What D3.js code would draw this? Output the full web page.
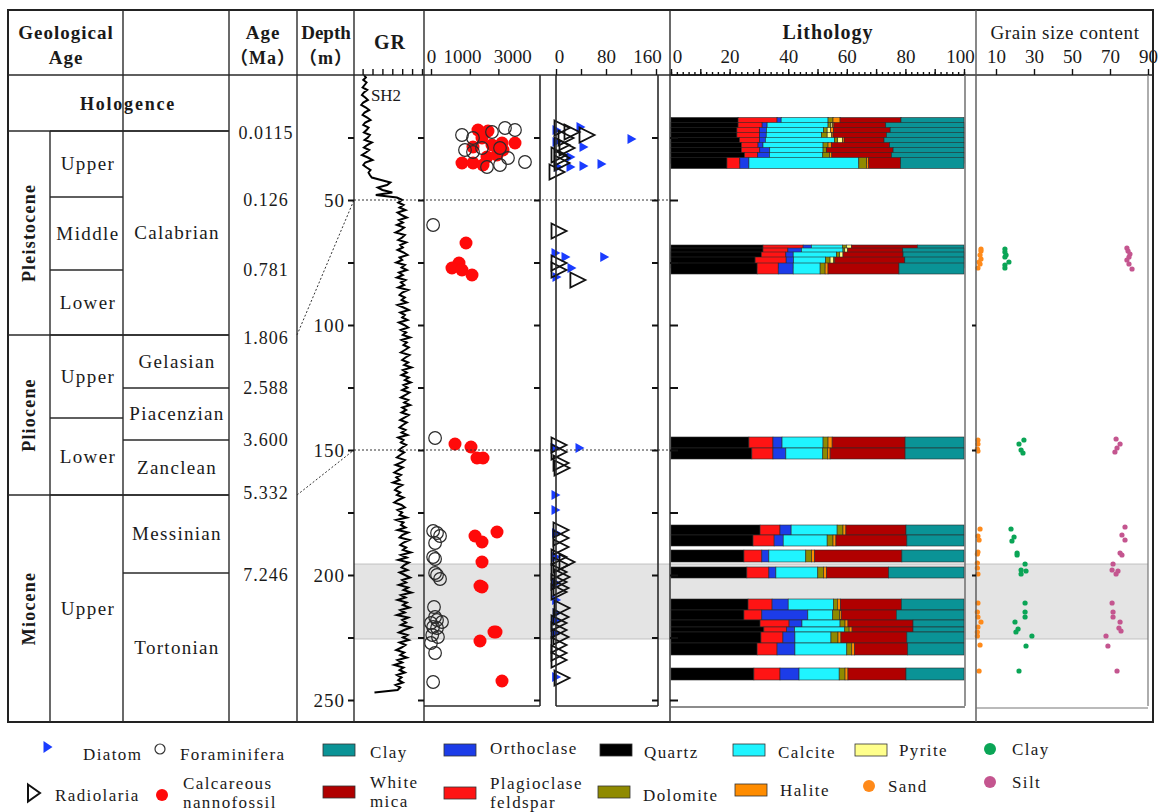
<!DOCTYPE html>
<html>
<head>
<meta charset="utf-8">
<script src="https://cdnjs.cloudflare.com/ajax/libs/d3/7.8.5/d3.min.js"></script>
<style>
  body { margin: 0; background: #fff; }
  text { font-family: "Liberation Serif", "DejaVu Serif", "Noto Sans CJK SC", serif; fill: #1a1a1a; }
</style>
</head>
<body>
<div class="canvas"></div>
<script>
// ---------------- data ----------------
// stratigraphy table
const epochs = ['Pleistocene', 'Pliocene', 'Miocene'];
const seriesNames = ['Upper', 'Middle', 'Lower', 'Upper', 'Lower', 'Upper'];
const stages = ['Calabrian', 'Gelasian', 'Piacenzian', 'Zanclean', 'Messinian', 'Tortonian'];
const ages = ['0.0115', '0.126', '0.781', '1.806', '2.588', '3.600', '5.332', '7.246'];

// depth ticks (m)
const depthTicks = [25, 50, 75, 100, 125, 150, 175, 200, 225, 250];
const shadeInterval = [195.6, 225.6];
const correlationDepths = [50, 150];

// GR log, one value per metre from 0 m
const grValues = [
  12, 15, 11, 16, 13, 10, 17, 12, 9, 14,
  18, 11, 8, 15, 20, 13, 10, 17, 22, 14,
  11, 19, 16, 12, 21, 18, 13, 24, 17, 12,
  20, 15, 9, 18, 25, 14, 11, 16, 22, 19,
  21, 24, 38, 52, 47, 33, 40, 55, 30, 62,
  70, 64, 72, 66, 75, 63, 69, 77, 65, 71,
  62, 73, 68, 60, 74, 70, 64, 76, 67, 71,
  63, 72, 78, 66, 70, 61, 74, 69, 77, 65,
  71, 62, 75, 68, 73, 64, 79, 70, 66, 74,
  69, 77, 63, 72, 80, 67, 74, 70, 78, 65,
  73, 79, 68, 76, 71, 82, 69, 77, 72, 80,
  74, 68, 81, 75, 70, 79, 73, 84, 71, 77,
  69, 80, 74, 83, 72, 78, 70, 81, 75, 68,
  79, 73, 82, 70, 76, 69, 80, 74, 67, 77,
  71, 66, 75, 69, 78, 64, 72, 68, 76, 70,
  65, 73, 67, 62, 74, 69, 60, 71, 64, 58,
  68, 61, 66, 56, 70, 63, 59, 67, 62, 72,
  64, 58, 69, 74, 63, 70, 66, 77, 61, 72,
  68, 75, 63, 79, 70, 66, 81, 72, 67, 76,
  71, 83, 68, 77, 64, 80, 73, 69, 78, 66,
  74, 82, 70, 76, 65, 79, 72, 84, 68, 75,
  63, 77, 71, 81, 67, 74, 62, 79, 70, 76,
  68, 83, 73, 65, 78, 71, 80, 66, 75, 69,
  61, 73, 67, 77, 63, 70, 58, 72, 66, 74,
  62, 69, 64, 71, 60, 67, 63, 28
];

// fossils: [depth m, abundance]
const foraminifera = [
  [24, 635], [25.2, 1166], [22.8, 2459], [21.2, 3620], [22, 4664], [30, 764], [30.8, 1166],
  [33.2, 3919], [36, 3147], [36.8, 2073], [34.8, 5840], [29.2, 1719], [29.2, 3147],
  [60, 3], [145.2, 11],
  [182.4, 3], [183.2, 24], [184.4, 54], [187.2, 11], [192.8, 3], [193.6, 11], [199.2, 11],
  [200, 24], [201.6, 54], [212.8, 6], [216.8, 11], [218, 24], [218.8, 80], [219.2, 0],
  [220.8, 3], [221.2, 24], [224, 1], [224.8, 32], [227.2, 0], [231.2, 11], [242.8, 3]
];
const nannofossil = [
  [22, 1460], [22.4, 2147], [25.2, 1719], [28.8, 1166], [28, 2459], [27.2, 3332], [27.2, 4664],
  [32.8, 2073], [35.2, 635], [35.2, 1166], [36, 1787], [32, 2879], [30, 3427],
  [67.2, 810], [75.2, 518], [77.2, 291], [78, 635], [80, 1111],
  [147.6, 381], [148.8, 1057], [153.2, 1399], [153.2, 1787],
  [184.4, 1280], [186.8, 1719], [182.8, 2879], [194.8, 1719], [204.4, 1587], [204.8, 1719],
  [222.8, 2623], [222.8, 2793], [226.4, 1587], [242.4, 3332]
];
const diatom = [
  [22, 1.6], [20.8, 40], [25.6, 121.6], [28.8, 44.8], [32.8, 24], [36.8, 24], [36.4, 44.8],
  [35.6, 73.6], [26.8, 1.6], [36.8, 4.8],
  [71.2, 0], [72.8, 16], [72.8, 78], [77.2, 25.6], [80.8, 1.6],
  [149.2, 0], [149.2, 38.4], [168, 0], [174, 0],
  [183.2, 1], [192.8, 1], [203.2, 1], [210, 1], [215.2, 2], [218, 1], [223.2, 1], [240.8, 1]
];
const radiolaria = [
  [21.2, 9.6], [22.8, 25.6], [24, 49.6], [25.2, 16], [28, 9.6], [29.2, 17.6], [32, 4.8],
  [35.2, 9.6], [38.8, 1.6], [33.2, 9.6],
  [62.4, 4.8], [75.2, 4.8], [78, 4.8], [82, 35],
  [148, 4.8], [150.8, 4.8], [155.2, 8], [157.2, 9.6],
  [182, 8], [185.2, 8], [188.8, 8], [192.8, 4.8], [194.8, 17.6], [196, 8], [198.8, 4.8],
  [200.8, 9.6], [202.8, 4.8], [205.2, 8], [206.8, 4.8], [213.2, 9.6], [216.8, 8], [219.2, 4.8],
  [222, 4.8], [224.8, 8], [228, 4.8], [231.2, 4.8], [234, 4.8], [241.2, 9.6]
];

// lithology samples (m) and mineral percentages
const sampleTop  = [17, 19, 21, 23, 25, 27, 29, 31, 33,
                    68, 69.2, 70.8, 72.8, 75.2,
                    144.8, 149.2,
                    180, 184, 190, 196.8, 209.6, 214, 218, 220.8, 222.8, 227.2, 237.2];
const sampleBase = [21.4, 23.4, 25.4, 27.4, 29.4, 31.4, 33.4, 35.4, 37.4,
                    72.4, 73.6, 75.2, 77.2, 79.6,
                    149.2, 153.6,
                    184, 188.4, 194.8, 201.2, 214, 218, 220.8, 222.8, 227.2, 232, 242];
const quartz      = [22.9, 22.9, 22.5, 22.5, 23.4, 24.0, 24.0, 25.1, 19.1, 31.4, 31.4, 30.8, 28.7, 29.4, 26.6, 27.6, 30.4, 28.0, 24.9, 25.9, 26.3, 24.9, 30.4, 31.7, 30.7, 29.4, 28.3];
const plagioclase = [13.3, 8.2, 7.7, 7.7, 6.8, 5.7, 6.3, 4.5, 4.4, 13.7, 8.5, 8.4, 10.6, 7.2, 8.2, 7.2, 6.8, 7.2, 6.1, 7.5, 8.2, 6.1, 9.9, 7.8, 7.5, 6.8, 8.9];
const orthoclase  = [1.4, 1.7, 2.4, 2.3, 2.0, 1.7, 3.4, 4.0, 3.1, 2.8, 4.6, 2.5, 2.5, 5.1, 3.1, 4.4, 3.8, 3.1, 2.4, 2.4, 5.5, 15.7, 4.4, 2.7, 4.1, 6.1, 6.5];
const calcite     = [16.0, 20.8, 19.5, 18.8, 23.6, 20.5, 18.2, 18.2, 37.5, 10.6, 14.2, 14.8, 11.0, 9.2, 14.0, 12.6, 15.7, 15.0, 12.6, 14.3, 15.4, 8.5, 13.0, 17.1, 12.3, 17.7, 13.7];
const dolomite    = [1.7, 1.0, 1.2, 2.0, 1.1, 1.7, 1.1, 2.3, 2.7, 1.4, 0.6, 1.1, 1.5, 1.7, 1.7, 1.7, 2.0, 2.0, 2.0, 2.0, 1.4, 2.4, 1.7, 1.5, 2.4, 1.7, 2.0];
const pyrite      = [0.0, 0.5, 1.1, 1.5, 1.7, 0.0, 0.0, 0.0, 0.0, 1.7, 1.0, 1.1, 1.1, 0.0, 0.0, 0.0, 0.0, 0.0, 0.0, 0.0, 0.0, 0.0, 0.0, 0.0, 0.0, 0.0, 0.0];
const halite      = [2.4, 0.5, 1.1, 0.5, 0.5, 1.1, 0.0, 0.8, 0.7, 0.0, 0.0, 0.0, 0.5, 1.0, 1.4, 0.8, 1.0, 1.0, 1.0, 1.0, 1.0, 0.5, 1.0, 1.0, 1.0, 1.0, 1.0];
const whiteMica   = [20.8, 17.7, 19.3, 18.2, 13.6, 19.9, 22.8, 20.3, 10.9, 22.5, 18.8, 20.5, 23.9, 24.2, 24.9, 25.6, 20.5, 24.2, 29.8, 21.2, 20.8, 18.8, 22.2, 20.8, 22.5, 18.1, 19.8];
const clayMineral = [21.5, 26.7, 25.2, 26.5, 27.3, 25.4, 24.2, 24.8, 21.6, 15.9, 20.9, 20.8, 20.2, 22.2, 20.1, 20.1, 19.8, 19.5, 21.2, 25.7, 21.4, 23.1, 17.4, 17.4, 19.5, 19.2, 19.8];

// grain size content: [depth m, %]
const sand = [
  [69.6, 2.1], [70.4, 2.1], [72, 1.6], [73.6, 2.1], [74.8, 1.1], [75.6, 1.6], [77.2, 0.5],
  [146, 0.5], [147.6, 0.5], [149.6, 0.2], [150.4, 0.5],
  [181.6, 1.6], [184.4, 0.5], [186, 1.1], [190.8, 0.5], [191.6, 0.2], [195.2, 0.2], [197.2, 0.2],
  [199.6, 0.5], [211.2, 0.5], [214.8, 0.2], [216.8, 0.5], [218.8, 2.1], [220.8, 0.5], [222.8, 0.2],
  [224.4, 0.2], [228, 1.6], [238.4, 1.1]
];
const clayGrain = [
  [69.6, 14.7], [70.8, 14.7], [72, 15.3], [72.8, 14.7], [74.8, 16.8], [76, 14.7], [77.2, 14.7],
  [146, 24.7], [147.6, 22.1], [150, 23.2], [151.2, 24.2],
  [181.6, 17.9], [184.8, 19.5], [186.4, 18.4], [191.2, 21.1], [192, 21.1], [195.6, 25.3], [198, 23.2],
  [198.4, 25.8], [199.6, 23.2], [211.2, 25.3], [214.8, 25.3], [216.8, 25.3], [218.8, 20], [221.6, 21.6],
  [222.8, 20.5], [224.4, 28.9], [228.4, 25.8], [238.4, 22.1]
];
const silt = [
  [69.2, 78.9], [70.4, 79.5], [71.6, 80.5], [72.8, 80], [74, 78.9], [75.6, 80], [77.6, 81.6],
  [145.6, 73.2], [147.6, 75.3], [149.2, 73.7], [150.8, 72.6],
  [180.8, 77.9], [184, 76.3], [186, 77.9], [191.2, 75.3], [192, 76.3], [195.6, 71.6], [198, 71.1],
  [198.4, 74.2], [199.6, 73.2], [211.2, 71.1], [214.8, 71.6], [216.8, 71.6], [218.8, 75.3], [221.2, 74.7],
  [222.4, 75.8], [224.4, 67.9], [228.4, 68.9], [238.4, 73.7]
];

// ---------------- styles ----------------
const minerals = {
  quartz: '#000000', plagioclase: '#ff1414', orthoclase: '#1c3ce8', calcite: '#1ff4ff',
  dolomite: '#8f8a00', pyrite: '#ffff8c', halite: '#ff8c00', whiteMica: '#b00000', clay: '#0a9396'
};
const mineralValues = {
  quartz, plagioclase, orthoclase, calcite, dolomite, pyrite, halite, whiteMica, clay: clayMineral
};
const mineralKeys = Object.keys(minerals);

// ---------------- layout ----------------
const svg = d3.select('.canvas')
  .append('svg')
    .attr('width', 1158)
    .attr('height', 812);

const frame = {left: 8, right: 1153, top: 10, head: 75, bottom: 722, plotBottom: 706};
const colX = {epoch: 50, series: 123, age: 229, depth: 297, gr: 354, fossil: 424,
  box1R: 540, box2L: 556, box2R: 658, lith: 670, lithR: 965, grain: 976, grainR: 1148};

// table rows of the stratigraphic column (pixels)
const holoBottom = 131;
const epochRows = [[131, 335], [335, 495], [495, 722]];
const seriesRows = [[131, 197], [197, 270], [270, 335], [335, 418], [418, 495], [495, 722]];
const stageRows = [[131, 335], [335, 388], [388, 440], [440, 495], [495, 573], [573, 722]];
const ageY = [133, 200, 270, 338, 388, 440, 493, 575];

// scales
const y = d3.scaleLinear().domain([0, 250]).range([75, 700]);
const grX = d3.scaleLinear().domain([0, 100]).range([356, 422]);
const foramX = d3.scaleSqrt().domain([0, 8000]).range([431, 541]);
const radX = d3.scaleLinear().domain([0, 160]).range([556, 656]);
const lithX = d3.scaleLinear().domain([0, 100]).range([671, 964]);
const grainX = d3.scaleLinear().domain([0, 90]).range([977, 1148]);

const line = (x1, y1, x2, y2, w = 1.4, c = '#2a2a2a') => svg.append('line')
  .attr('x1', x1).attr('y1', y1).attr('x2', x2).attr('y2', y2)
  .attr('stroke', c).attr('stroke-width', w);

// shaded interval
svg.append('rect')
  .attr('x', colX.gr).attr('y', y(shadeInterval[0]))
  .attr('width', colX.grainR - colX.gr).attr('height', y(shadeInterval[1]) - y(shadeInterval[0]))
  .attr('fill', '#e4e4e4');
shadeInterval.forEach(d => line(colX.gr, y(d), colX.grainR, y(d), 0.8, '#b5b5b5'));

// ---------------- lithology bars ----------------
const lithG = svg.append('g');
sampleTop.forEach((top, i) => {
  const row = mineralKeys.map(k => mineralValues[k][i]);
  const ends = d3.cumsum(row);
  const g = lithG.append('g');
  g.selectAll('rect')
    .data(mineralKeys.map((k, j) => ({k, x0: ends[j] - row[j], x1: ends[j]})).filter(d => d.x1 > d.x0))
    .enter()
    .append('rect')
      .attr('x', d => lithX(d.x0))
      .attr('width', d => lithX(d.x1) - lithX(d.x0))
      .attr('y', y(top))
      .attr('height', y(sampleBase[i]) - y(top))
      .attr('fill', d => minerals[d.k])
      .attr('stroke', '#2b2b2b')
      .attr('stroke-width', 0.6);
});

// ---------------- fossils ----------------
const triPath = (cx, cy, w, h) =>
  `M${cx - w / 2},${cy - h / 2}L${cx + w / 2},${cy}L${cx - w / 2},${cy + h / 2}Z`;

svg.append('g').selectAll('circle')
  .data(nannofossil).enter().append('circle')
    .attr('cx', d => foramX(d[1])).attr('cy', d => y(d[0])).attr('r', 6.5)
    .attr('fill', '#ff0a0a');
svg.append('g').selectAll('circle')
  .data(foraminifera).enter().append('circle')
    .attr('cx', d => foramX(d[1])).attr('cy', d => y(d[0])).attr('r', 6.3)
    .attr('fill', 'none').attr('stroke', '#2a2a2a').attr('stroke-width', 1.2);
svg.append('g').selectAll('path')
  .data(diatom).enter().append('path')
    .attr('d', d => triPath(radX(d[1]), y(d[0]), 9, 10))
    .attr('fill', '#1a3cff');
svg.append('g').selectAll('path')
  .data(radiolaria).enter().append('path')
    .attr('d', d => triPath(radX(d[1]), y(d[0]), 15, 15))
    .attr('fill', 'none').attr('stroke', '#111').attr('stroke-width', 1.8)
    .attr('stroke-linejoin', 'miter');

// ---------------- grain size ----------------
[[sand, '#ff8a1a'], [clayGrain, '#0aa556'], [silt, '#c4558f']].forEach(([data, c]) => {
  svg.append('g').selectAll('circle')
    .data(data).enter().append('circle')
      .attr('cx', d => grainX(d[1])).attr('cy', d => y(d[0])).attr('r', 2.6)
      .attr('fill', c);
});

// ---------------- GR curve ----------------
svg.append('path')
  .datum(grValues)
  .attr('d', d3.line().x(d => grX(d)).y((d, i) => y(i)))
  .attr('fill', 'none').attr('stroke', '#000').attr('stroke-width', 2);
svg.append('text').attr('x', 386).attr('y', 101).attr('text-anchor', 'middle')
  .style('font-size', '17px').text('SH2');

// ---------------- table lines ----------------
// outer frame
svg.append('rect')
  .attr('x', frame.left).attr('y', frame.top)
  .attr('width', frame.right - frame.left).attr('height', frame.bottom - frame.top)
  .attr('fill', 'none').attr('stroke', '#222').attr('stroke-width', 2);
line(frame.left, frame.head, frame.right, frame.head, 1.6);

// vertical separators
line(colX.series, frame.top, colX.series, frame.bottom);
line(colX.epoch, holoBottom, colX.epoch, frame.bottom);
[colX.age, colX.depth, colX.gr, colX.fossil, colX.lith].forEach(x => line(x, frame.top, x, frame.bottom));
line(colX.grain, frame.top, colX.grain, frame.bottom, 1.4, '#555');
line(colX.lithR, frame.head, colX.lithR, frame.plotBottom, 1.4, '#666');
line(colX.grainR, frame.head, colX.grainR, frame.plotBottom, 1.2, '#777');
line(colX.grain, frame.plotBottom + 2, colX.grainR, frame.plotBottom + 2, 1.2, '#777');
line(colX.lith, frame.plotBottom + 1, colX.lithR, frame.plotBottom + 1, 1.4, '#666');
[colX.box1R, colX.box2L, colX.box2R].forEach(x => line(x, frame.head, x, frame.plotBottom, 1.6));
line(colX.fossil, frame.plotBottom, colX.box1R, frame.plotBottom, 1.6);
line(colX.box2L, frame.plotBottom, colX.box2R, frame.plotBottom, 1.6);

// horizontal row lines of the stratigraphy
line(frame.left, holoBottom, colX.age, holoBottom);
epochRows.slice(1).forEach(r => line(frame.left, r[0], colX.age, r[0]));
seriesRows.forEach(r => line(colX.epoch, r[0], colX.series, r[0]));
stageRows.forEach(r => line(colX.series, r[0], colX.age, r[0]));

// correlation lines
correlationDepths.forEach((d, i) => {
  const yy = y(d);
  const left = i === 0 ? ageY[3] - 3 : ageY[6] + 2;
  line(colX.depth, left, colX.gr, yy, 1, '#333').attr('stroke-dasharray', '2,2');
  line(colX.gr, yy, colX.lith, yy, 1, '#333').attr('stroke-dasharray', '2,2');
});

// ---------------- depth ticks ----------------
const tickStyle = g => {
  g.select('.domain').remove();
  g.selectAll('.tick line').attr('stroke', '#111').attr('stroke-width', 2);
  g.selectAll('.tick text').style('font-size', '19px').style('letter-spacing', '1px')
    .style('font-family', '"Liberation Serif", serif');
};
svg.append('g').attr('transform', `translate(${colX.gr},0)`)
  .call(d3.axisLeft(y).tickValues(depthTicks).tickSize(6).tickPadding(3)
    .tickFormat(d => d % 50 ? '' : d))
  .call(tickStyle);
[colX.fossil, colX.box1R, colX.box2R].forEach(x => {
  svg.append('g').attr('transform', `translate(${x},0)`)
    .call(d3.axisLeft(y).tickValues(depthTicks).tickSize(6).tickFormat(''))
    .call(tickStyle);
});
svg.append('g').attr('transform', `translate(${colX.lith},0)`)
  .call(d3.axisRight(y).tickValues(depthTicks).tickSize(8).tickFormat(''))
  .call(tickStyle);
svg.append('g').attr('transform', `translate(${colX.grain},0)`)
  .call(d3.axisLeft(y).tickValues([100, 150, 200]).tickSize(4).tickFormat(''))
  .call(tickStyle);

// ---------------- header axes ----------------
// labelShift nudges crowded labels sideways, as in the original sheet
const headAxis = (axis, labelShift = {}) => svg.append('g')
  .attr('transform', `translate(0,${frame.head})`)
  .call(axis)
  .call(g => {
    g.select('.domain').remove();
    g.selectAll('.tick line').attr('stroke', '#111').attr('stroke-width', 1.4);
    g.selectAll('.tick text').style('font-size', '19px')
      .style('font-family', '"Liberation Serif", serif').attr('fill', '#1a1a1a')
      .attr('dx', d => labelShift[d] || 0);
  });

headAxis(d3.axisTop(grX).tickValues(d3.range(10, 101, 15)).tickSize(6).tickFormat(''));
headAxis(d3.axisTop(foramX).tickValues([0, 1000, 3000]).tickSize(6).tickPadding(6)
  .tickFormat(d3.format('d')), {0: 0, 1000: -8, 3000: 14});
headAxis(d3.axisTop(radX).tickValues([0, 40, 80, 120, 160]).tickSize(6).tickPadding(6)
  .tickFormat(d => d % 80 ? '' : d), {0: 3, 160: -9});
headAxis(d3.axisTop(lithX).tickValues(d3.range(0, 101, 2)).tickSize(3).tickFormat(''));
headAxis(d3.axisTop(lithX).tickValues(d3.range(0, 101, 10)).tickSize(6).tickPadding(6)
  .tickFormat(d => d % 20 ? '' : d), {0: 6, 100: -4});
headAxis(d3.axisTop(grainX).tickValues([10, 30, 50, 70, 90]).tickSize(6).tickPadding(6));
line(lithX(0), frame.head, lithX(100), frame.head, 1.4, '#111');

// ---------------- header text ----------------
const txt = (x, yy, s, size = 19, weight = 'bold', anchor = 'middle', ls = 1) => svg.append('text')
  .attr('x', x).attr('y', yy).attr('text-anchor', anchor)
  .style('font-size', size + 'px').style('font-weight', weight)
  .style('letter-spacing', ls + 'px').text(s);

txt(66, 39, 'Geological');
txt(66, 64, 'Age');
txt(263, 39, 'Age');
txt(263, 64, '（Ma）', 18);
txt(326, 39, 'Depth', 19, 'bold', 'middle', 0);
txt(326, 64, '（m）', 18);
txt(390, 49, 'GR', 20);
txt(828, 39, 'Lithology', 20);
txt(1065, 39, 'Grain size content', 19, 'normal', 'middle', 0.6);

// ---------------- stratigraphy text ----------------
txt(128, 110, 'Hologence', 18, 'bold', 'middle', 1.8);
epochs.forEach((e, i) => {
  const cy = (epochRows[i][0] + epochRows[i][1]) / 2;
  svg.append('text')
    .attr('transform', `translate(35,${cy}) rotate(-90)`)
    .attr('text-anchor', 'middle')
    .style('font-size', '18px').style('font-weight', 'bold').style('letter-spacing', '1.2px')
    .text(e);
});
seriesNames.forEach((s, i) => txt(88, (seriesRows[i][0] + seriesRows[i][1]) / 2 + 6, s, 19, 'normal', 'middle', 1.4));
stages.forEach((s, i) => txt(177, (stageRows[i][0] + stageRows[i][1]) / 2 + 6, s, 19, 'normal', 'middle', 1.3));
ages.forEach((a, i) => txt(266, ageY[i] + 6, a, 18, 'normal', 'middle', 1));

// ---------------- legend ----------------
const leg = svg.append('g');
const legText = (x, yy, s) => leg.append('text').attr('x', x).attr('y', yy)
  .style('font-size', '17px').style('letter-spacing', '1.4px').text(s);
const swatch = (x, yy, c) => leg.append('rect').attr('x', x).attr('y', yy)
  .attr('width', 32).attr('height', 12).attr('fill', c).attr('stroke', '#333').attr('stroke-width', 0.8);
const dot = (x, yy, r, c, fill = true) => leg.append('circle').attr('cx', x).attr('cy', yy).attr('r', r)
  .attr('fill', fill ? c : 'none').attr('stroke', fill ? 'none' : c).attr('stroke-width', 1.2);

leg.append('path').attr('d', triPath(48, 747, 9, 12)).attr('fill', '#1a3cff');
legText(83, 760, 'Diatom');
leg.append('path').attr('d', triPath(34, 793, 12, 17)).attr('fill', 'none')
  .attr('stroke', '#111').attr('stroke-width', 2);
legText(55, 801, 'Radiolaria');
dot(160, 749, 5, '#333', false);
legText(180, 760, 'Foraminifera');
dot(162, 795, 6, '#ff0a0a');
legText(183, 789, 'Calcareous');
legText(183, 808, 'nannofossil');

swatch(323, 786, minerals.whiteMica);   legText(370, 788, 'White'); legText(370, 807, 'mica');
swatch(323, 744, minerals.clay);        legText(370, 758, 'Clay');
swatch(444, 744, minerals.orthoclase);  legText(490, 754, 'Orthoclase');
swatch(444, 787, minerals.plagioclase); legText(490, 789, 'Plagioclase'); legText(490, 808, 'feldspar');
swatch(600, 744, minerals.quartz);      legText(644, 758, 'Quartz');
swatch(598, 786, minerals.dolomite);    legText(643, 801, 'Dolomite');
swatch(733, 744, minerals.calcite);     legText(778, 758, 'Calcite');
swatch(735, 784, minerals.halite);      legText(780, 796, 'Halite');
swatch(855, 744, minerals.pyrite);      legText(899, 756, 'Pyrite');
dot(869, 786, 6, '#ff8a1a');            legText(888, 792, 'Sand');
dot(990, 749, 6, '#0aa556');            legText(1012, 755, 'Clay');
dot(990, 782, 6, '#c4558f');            legText(1012, 788, 'Silt');
</script>
</body>
</html>
